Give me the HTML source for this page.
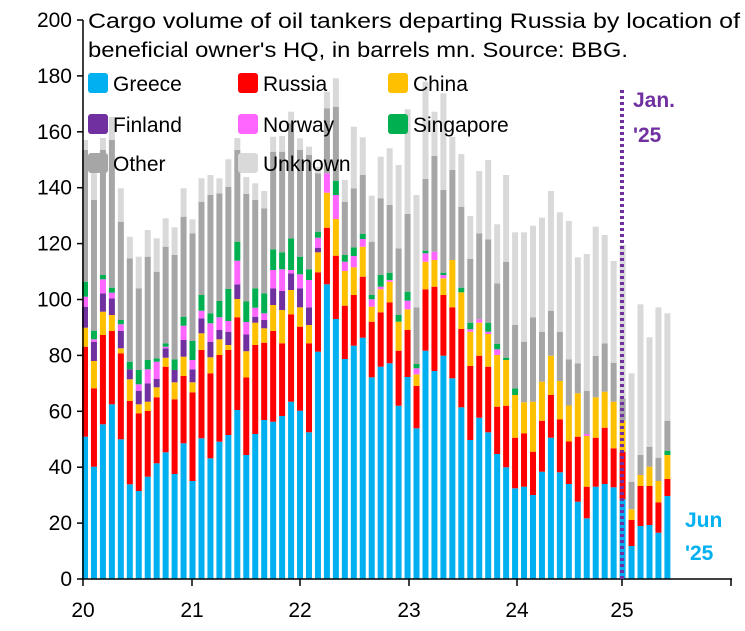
<!DOCTYPE html>
<html><head><meta charset="utf-8"><style>body{margin:0;background:#fff}svg{display:block;font-family:"Liberation Sans",sans-serif}</style></head>
<body>
<svg id="s" width="745" height="631" xmlns="http://www.w3.org/2000/svg">
<g id="bars"></g>
<line x1="83" y1="20" x2="83" y2="579" stroke="#000" stroke-width="1.5"/>
<line x1="83" y1="579" x2="732" y2="579" stroke="#000" stroke-width="1.5"/>
<g id="ticks" stroke="#000" stroke-width="1.5"></g>
<g id="labels" font-size="21" fill="#000"></g>
<text x="88" y="28" font-size="21" textLength="652" lengthAdjust="spacingAndGlyphs">Cargo volume of oil tankers departing Russia by location of</text>
<text x="88" y="57" font-size="21" textLength="540" lengthAdjust="spacingAndGlyphs">beneficial owner's HQ, in barrels mn. Source: BBG.</text>
<g font-size="21">
<rect x="88" y="73" width="20" height="20" rx="3" fill="#00B0F0"/><text x="113" y="91">Greece</text>
<rect x="238" y="73" width="20" height="20" rx="3" fill="#FF0000"/><text x="263" y="91">Russia</text>
<rect x="388" y="73" width="20" height="20" rx="3" fill="#FFC000"/><text x="413" y="91">China</text>
<rect x="88" y="114" width="20" height="20" rx="3" fill="#7030A0"/><text x="113" y="132">Finland</text>
<rect x="238" y="114" width="20" height="20" rx="3" fill="#FF66FF"/><text x="263" y="132">Norway</text>
<rect x="388" y="114" width="20" height="20" rx="3" fill="#00B050"/><text x="413" y="132">Singapore</text>
<rect x="88" y="153" width="20" height="20" rx="3" fill="#A6A6A6"/><text x="113" y="171">Other</text>
<rect x="238" y="153" width="20" height="20" rx="3" fill="#D9D9D9"/><text x="263" y="171">Unknown</text>
</g>
<line x1="622" y1="90" x2="622" y2="579" stroke="#7030A0" stroke-width="4" stroke-dasharray="3,3"/>
<text x="633" y="107" font-size="21" font-weight="bold" fill="#7030A0">Jan.</text>
<text x="633" y="142" font-size="21" font-weight="bold" fill="#7030A0">'25</text>
<text x="685" y="527" font-size="21" font-weight="bold" fill="#00B0F0">Jun</text>
<text x="685" y="560" font-size="21" font-weight="bold" fill="#00B0F0">'25</text>
</svg>
<script>
var D=[
[436.7,346.7,327.7,306.7,296.7,281.7,150,140],
[466.7,388.3,361,341.7,339.3,330.7,200,155],
[424.3,335,311.7,293.3,279.3,275,150,138],
[404.3,331,315,298.3,292.7,287.7,140,117],
[439.3,353.3,348.3,331,324.3,320,221.7,188.3],
[484.3,401,379.3,369.3,369.3,361.7,258.3,236.7],
[491,413.3,404.3,390.7,384.3,370,288.3,256.7],
[476.7,411,401.7,383.3,369.3,360,256.7,230],
[463.3,397.3,387.3,379,361.7,358.3,271.7,238.3],
[452.3,366.7,357.7,348.3,346.7,343.3,246.7,218.3],
[474,399.3,382.3,370,370,359.3,255,227.3],
[443.3,376,356.7,340,325.7,316.7,216.7,188.3],
[481,392.3,382.3,369.3,360,341,233.3,219.3],
[438.3,350,333.3,318.3,310.7,295,201.7,178.3],
[458.3,373.3,357.3,341.7,323.3,313.3,195,175],
[441.7,355,339.3,330,317.3,301,193.3,178.3],
[435,350,345,331.7,321,289,186.7,159.3],
[410,317.3,299,284.3,260.7,241.7,150,138],
[455,377.5,351.2,334.5,322,301.5,194,177],
[434,345,322.7,316.7,307.7,288.3,200,183.3],
[420,342.7,328.3,320,313.3,293.3,208.3,191],
[421.7,331,305,288.3,270,249.3,151.7,136.7],
[416,343.3,310,291,269.3,252.3,151.7,136],
[401.7,314.3,290,273.3,270,238.3,123.3,111.7],
[410.7,326.7,307.3,288.3,274.3,256.7,150,138.3],
[432.3,343.3,325,307.3,280,269.3,155,146.7],
[351.7,272.3,252.3,247.7,237.7,231.7,173.3,166.7],
[284.3,227.7,192.7,192.7,173.3,173.3,108.3,91.7],
[319,255.7,219,219,195,180.7,106.7,78.3],
[359,305.7,271,271,261.7,255,201.7,180],
[345.7,295,267.3,267.3,256,247.3,188.3,126.7],
[337.7,276.7,246.7,246.7,239,234,175,137.3],
[377.3,321.7,306.7,306.7,299.3,295,241.7,195.7],
[366.7,312.3,289.3,289.3,286.7,275,198.3,156.7],
[363.3,302.3,281.7,281.7,280,272.7,205,148.3],
[405.7,350.7,321.7,321.7,321.7,315,248.3,165],
[377,330,309.3,309.3,300.7,291.7,214,109.3],
[428.3,386,374.3,374.3,368.3,364,307.3,195],
[350.7,289.3,261.7,261.7,253.3,250.7,179,81.7],
[371,286.7,260,260,251.7,251.7,156,111.7],
[355.7,295,278.3,278.3,275,272.7,190,93.3],
[378.3,307.3,260,260,260,260,170,136.7],
[407.3,329,292.3,292.3,292.3,287.7,206.7,154],
[440,366,331.7,331.7,329.3,322.7,259,216],
[417.7,355.7,322.7,322.7,319.3,319.3,233.3,171],
[432.3,366.7,334,334,331.7,322.7,239.3,160],
[454,406.7,355,355,349.3,344,283.3,224.3],
[467.3,405.7,360,360,360,357.7,261.7,175],
[488.3,437.7,395,395,395,388.3,325,232.3],
[486.7,433.3,402.3,402.3,402.3,402.3,341.7,232.3],
[495,451.7,401.7,401.7,401.7,401.7,317.3,225.7],
[471.7,420.7,381.7,381.7,381.7,381.7,331.7,217.7],
[437.7,395,355.7,355.7,355.7,355.7,310.7,191],
[472.3,419.3,381,381,381,381,331.7,212.3],
[484,441.5,405.5,405.5,405.5,405.5,359.5,221],
[501.7,436.7,393.3,393.3,393.3,393.3,363.3,257.3],
[518.3,486.7,436,436,434,434,390.7,254],
[486.7,437.7,397.3,397.3,397.3,397.3,356,226.7],
[484,427.7,391.7,391.7,391.7,391.7,343.3,235],
[487.3,448.3,401.7,401.7,401.7,401.7,362.7,261],
[499.3,451.7,420.7,420.7,420.7,420.7,398.3,245],
[546,520,509.3,509.3,509.3,509.3,481.7,373.3],
[526,486,475,475,475,475,455,304.3],
[525,486,466.7,466.7,466.7,466.7,446.7,337.3],
[532.7,502.3,481,481,481,481,457.7,307.3],
[496,479,455,455,455,450.7,420.7,313.3]];
var C=["#00B0F0","#FF0000","#FFC000","#7030A0","#FF66FF","#00B050","#A6A6A6","#D9D9D9"];
var g=document.getElementById("bars"),h="";
D.forEach(function(b,i){var x=85+8.96*i-3,prev=579;
for(var k=0;k<8;k++){var t=b[k];if(prev-t>0.2)h+='<rect x="'+x.toFixed(2)+'" y="'+t+'" width="6" height="'+(prev-t).toFixed(2)+'" fill="'+C[k]+'"/>';prev=t;}});
g.innerHTML=h;
var tk="",lb="";
for(var v=0;v<=200;v+=20){var y=579-v*2.795;tk+='<line x1="77" y1="'+y+'" x2="83" y2="'+y+'"/>';lb+='<text x="72" y="'+(y+7)+'" text-anchor="end">'+v+'</text>';}
var xs=[83,192,300,409,517,622,731],yl=["20","21","22","23","24","25",""];
xs.forEach(function(x,i){tk+='<line x1="'+x+'" y1="579" x2="'+x+'" y2="586"/>';if(yl[i])lb+='<text x="'+x+'" y="617" text-anchor="middle">'+yl[i]+'</text>';});
document.getElementById("ticks").innerHTML=tk;document.getElementById("labels").innerHTML=lb;
</script>
</body></html>
